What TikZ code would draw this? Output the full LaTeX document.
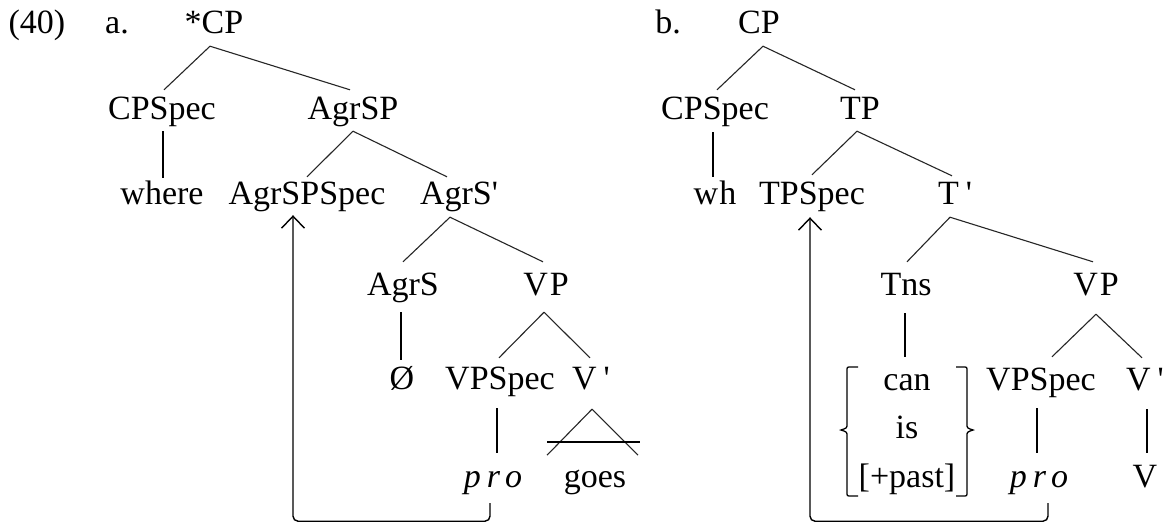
\documentclass[tikz,border=0pt]{standalone}
\usepackage{fontspec}
\setmainfont{Liberation Serif}
\usetikzlibrary{calc,arrows.meta}
\begin{document}
\begin{tikzpicture}[x=1pt,y=-1pt,
  lab/.style={anchor=base,inner sep=0pt,text height=22pt,text depth=6pt,
              font=\fontsize{34}{40}\selectfont},
  br/.style={line width=1.1pt,black!85,line join=round},
  vl/.style={line width=1.6pt},
  move/.style={line width=1.4pt,rounded corners=5pt,
               -{Straight Barb[length=12pt,width=23pt]}}]
\fill[white] (0,0) rectangle (1167,523);
\useasboundingbox (0,0) rectangle (1167,523);

% ---------- (40a) ----------
\node[lab] (num) at (37,33) {(40)};
\node[lab] (la) at (117,33) {a.};
\node[lab] (cpA) at (214,33) {*CP};
\node[lab] (cpspecA) at (162,119) {CPSpec};
\node[lab] (agrspA) at (353,119) {AgrSP};
\node[lab] (whereA) at (162,204) {where};
\node[lab] (agrspspecA) at (307,204) {AgrSPSpec};
\node[lab] (agrsbarA) at (459,204) {AgrS\textquotesingle};
\node[lab] (agrsA) at (403,295) {AgrS};
\node[lab] (vpA) at (546,295) {V\kern2pt P};
\node[lab] (nullA) at (402,389) {Ø};
\node[lab] (vpspecA) at (500,389) {VPSpec};
\node[lab] (vbarA) at (591,389) {V\kern7pt\textquotesingle};
\node[lab] (proA) at (493,487) {\textit{p\kern6pt r\kern5pt o}};
\node[lab] (goesA) at (595,487) {goes};

\draw[br] ($(cpspecA.north)+(2,-7)$) -- ($(cpA.south)+(-4,7)$) -- ($(agrspA.north)+(-3,-7)$);
\draw[vl] ($(cpspecA.south)+(1,6)$) -- ($(whereA.north)+(1,-4)$);
\draw[br] ($(agrspspecA.north)+(0,-5)$) -- ($(agrspA.south)+(0,6)$) -- ($(agrsbarA.north)+(-12,-5)$);
\draw[br] ($(agrsA.north)+(0,-11)$) -- ($(agrsbarA.south)+(-9,7)$) -- ($(vpA.north)+(-3,-11)$);
\draw[vl] ($(agrsA.south)+(-2,11)$) -- ($(nullA.north)+(-1,-7)$);
\draw[br] ($(vpspecA.north)+(-1,-9)$) -- ($(vpA.south)+(-2,11)$) -- ($(vbarA.north)+(-1,-9)$);
\draw[vl] ($(vpspecA.south)+(-3,13)$) -- ($(proA.north)+(4,-12)$);
% triangle over "goes"
\coordinate (triA) at ($(vbarA.south)+(1,14)$);
\draw[br] ($(triA)+(-45,46)$) -- (triA) -- ($(triA)+(46,46)$);
\draw[vl] ($(goesA.north)+(-48,-23)$) -- ++(93,0);
% movement of pro
\draw[move] ($(proA.south)+(-3,10)$) -- ($(proA.south)+(-3,28)$)
  -| ($(agrspspecA.south)+(-14,5)$);

% ---------- (40b) ----------
\node[lab] (lb) at (668,33) {b.};
\node[lab] (cpB) at (759,33) {CP};
\node[lab] (cpspecB) at (715,119) {CPSpec};
\node[lab] (tpB) at (860,119) {TP};
\node[lab] (whB) at (715,204) {w\kern1pt h};
\node[lab] (tpspecB) at (812,204) {TPSpec};
\node[lab] (tbarB) at (955,204) {T\kern7pt\textquotesingle};
\node[lab] (tnsB) at (906,295) {Tns};
\node[lab] (vpB) at (1096,295) {V\kern2pt P};
\node[lab] (canB) at (907,390) {can};
\node[lab] (isB) at (907,438) {is};
\node[lab] (pastB) at (907,487) {[+past]};
\node[lab] (vpspecB) at (1041,390) {VPSpec};
\node[lab] (vbarB) at (1145,390) {V\kern7pt\textquotesingle};
\node[lab] (proB) at (1039,487) {\textit{p\kern6pt r\kern5pt o}};
\node[lab] (vB) at (1145,487) {V};

\draw[br] ($(cpspecB.north)+(2,-7)$) -- ($(cpB.south)+(4,7)$) -- ($(tpB.north)+(-5,-7)$);
\draw[vl] ($(cpspecB.south)+(-2,7)$) -- ($(whB.north)+(-2,-5)$);
\draw[br] ($(tpspecB.north)+(0,-7)$) -- ($(tpB.south)+(-3,6)$) -- ($(tbarB.north)+(-3,-6)$);
\draw[br] ($(tnsB.north)+(1,-11)$) -- ($(tbarB.south)+(-5,7)$) -- ($(vpB.north)+(-3,-11)$);
\draw[vl] ($(tnsB.south)+(-1,12)$) -- ($(canB.north)+(-2,-11)$);
\draw[br] ($(vpspecB.north)+(11,-11)$) -- ($(vpB.south)+(0,13)$) -- ($(vbarB.north)+(-3,-10)$);
\draw[vl] ($(vpspecB.south)+(-4,12)$) -- ($(proB.north)+(-2,-12)$);
\draw[vl] ($(vbarB.south)+(2,13)$) -- ($(vB.north)+(2,-12)$);
% braces round the Tns values
\begin{scope}[shift={(isB.base)},line width=1.3pt]
  \draw (-49,-71) -- (-56,-71) .. controls (-60,-71) .. (-60,-67) -- (-60,-14)
        .. controls (-60,-10) .. (-66,-8) .. controls (-60,-6) .. (-60,-2)
        -- (-60,54) .. controls (-60,58) .. (-56,58) -- (-49,58);
  \draw (49,-71) -- (56,-71) .. controls (60,-71) .. (60,-67) -- (60,-14)
        .. controls (60,-10) .. (66,-8) .. controls (60,-6) .. (60,-2)
        -- (60,54) .. controls (60,58) .. (56,58) -- (49,58);
\end{scope}
% movement of pro
\draw[move] ($(proB.south)+(9,10)$) -- ($(proB.south)+(9,28)$)
  -| ($(tpspecB.south)+(-2,7)$);
\end{tikzpicture}
\end{document}
